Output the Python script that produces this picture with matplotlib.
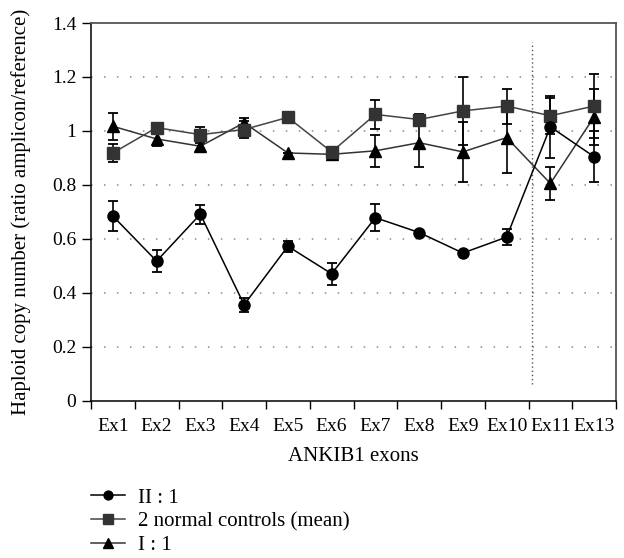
import numpy as np
import matplotlib
matplotlib.use('Agg')
import matplotlib.pyplot as plt

plt.rcParams['font.family'] = ['Liberation Serif', 'DejaVu Serif']

# data
exons = ['Ex1', 'Ex2', 'Ex3', 'Ex4', 'Ex5', 'Ex6', 'Ex7', 'Ex8', 'Ex9', 'Ex10', 'Ex11', 'Ex13']

ii1 = [0.684, 0.517, 0.691, 0.355, 0.572, 0.470, 0.678, 0.623, 0.547, 0.606, 1.015, 0.904]
ii1_err = [0.055, 0.040, 0.035, 0.025, 0.020, 0.040, 0.050, 0.0, 0.0, 0.030, 0.115, 0.095]

controls = [0.918, 1.012, 0.986, 1.005, 1.050, 0.922, 1.061, 1.042, 1.074, 1.092, 1.056, 1.092]
controls_err = [0.035, 0.0, 0.030, 0.030, 0.0, 0.0, 0.053, 0.020, 0.125, 0.065, 0.067, 0.120]

i1 = [1.017, 0.970, 0.943, 1.030, 0.918, 0.913, 0.926, 0.956, 0.922, 0.975, 0.805, 1.052]
i1_err = [0.050, 0.025, 0.018, 0.016, 0.0, 0.0, 0.060, 0.090, 0.110, 0.133, 0.060, 0.105]

labels = ['II : 1', '2 normal controls (mean)', 'I : 1']

fs_tick = 14
fs = 15
fig = plt.figure(figsize=(6.24, 5.58), dpi=100)
ax = fig.add_axes([91/624, 1 - 400.5/558, (616 - 91)/624, (400.5 - 23)/558])

x = np.arange(len(exons))

# grid
for yv in [0.2, 0.4, 0.6, 0.8, 1.0, 1.2]:
    ax.axhline(yv, color='#8a8a8a', lw=1.1, ls=(0, (1, 7.5)), zorder=0)
# separator between exon 10 and 11
ax.plot([9.57, 9.57], [0.063, 1.329], color='#555555', lw=1.0, ls=(0, (1, 2)), zorder=1)

series = [
    (i1, i1_err, '^', 'black', '#333333', 8.5),
    (controls, controls_err, 's', '#333333', '#444444', 8.5),
    (ii1, ii1_err, 'o', 'black', 'black', 8),
]
handles = {}
for vals, err, mk, mc, lc, ms in series:
    ax.errorbar(x, vals, yerr=err, fmt='none', ecolor='black', elinewidth=1.2,
                capsize=3.5, capthick=1.3, zorder=2)
    ln, = ax.plot(x, vals, color=lc, lw=1.1, marker=mk, ms=ms, mfc=mc, mec=mc, zorder=3)
    handles[mk] = ln

ax.set_xlim(-0.5, len(exons) - 0.5)
ax.set_ylim(0, 1.4)
ax.set_yticks(np.arange(0, 1.41, 0.2))
ax.set_yticklabels(['0', '0.2', '0.4', '0.6', '0.8', '1', '1.2', '1.4'], fontsize=fs_tick)
ax.set_xticks(np.arange(len(exons) + 1) - 0.5)
ax.set_xticklabels([])
ax.set_xticks(x, minor=True)
ax.set_xticklabels(exons, minor=True, fontsize=fs_tick)
ax.tick_params(axis='x', which='minor', length=0, pad=12.5)
ax.tick_params(axis='x', which='major', direction='out', length=6, width=1)
ax.tick_params(axis='y', direction='out', length=6.5, width=1, pad=4)

for side in ['top', 'right']:
    ax.spines[side].set_color('#555555')
    ax.spines[side].set_linewidth(1.3)
for side in ['left', 'bottom']:
    ax.spines[side].set_linewidth(1.1)

ax.set_xlabel('ANKIB1 exons', fontsize=fs, labelpad=9)
ax.set_ylabel('Haploid copy number (ratio amplicon/reference)', fontsize=fs, labelpad=15)

fig.legend([handles['o'], handles['s'], handles['^']], labels,
           loc='upper left', bbox_to_anchor=(91/624, 1 - 488/558), frameon=False,
           fontsize=fs, handlelength=1.65, handletextpad=0.63, labelspacing=0.2,
           borderpad=0, borderaxespad=0, markerscale=0.8)

fig.savefig('out.png', dpi=100)
